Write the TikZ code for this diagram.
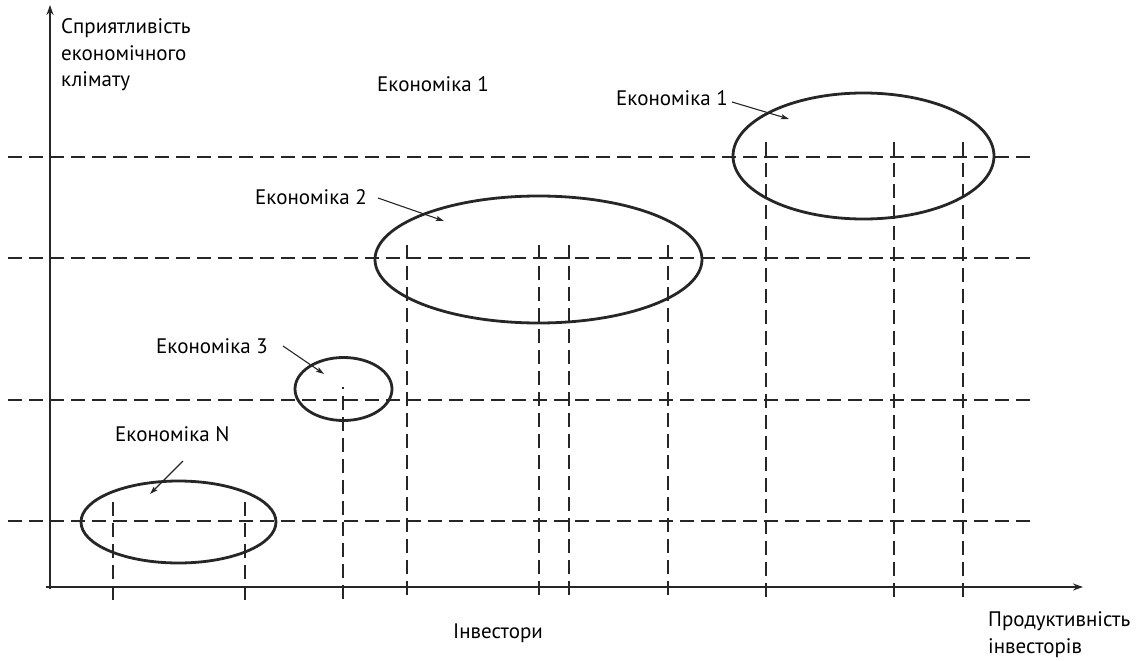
\documentclass[tikz,border=0pt]{standalone}
\usepackage{fontspec}
\setmainfont{PT Sans}
\usetikzlibrary{shapes.geometric,arrows.meta}
\begin{document}
\begin{tikzpicture}[x=1pt,y=-1pt,
  grid/.style={line width=1.5pt,dash pattern=on 14pt off 7pt,black!85},
  axis/.style={line width=1.8pt,black!85,-{Stealth[length=10pt,width=7pt]}},
  econ/.style={ellipse,draw=black!85,line width=2.8pt,inner sep=0pt},
  pointer/.style={line width=1.1pt,black!85,-{Stealth[length=8pt,width=5pt,inset=1.5pt]}},
  lbl/.style={anchor=base west,inner sep=0pt,font=\fontsize{21}{27}\selectfont,text=black}]
\useasboundingbox (0,0) rectangle (1138,661);

% horizontal levels of the climate
\draw[grid] (8,157) -- (1030,157);
\draw[grid] (8,258) -- (1030,258);
\draw[grid] (8,400) -- (1030,400);
\draw[grid] (8,521) -- (1030,521);

% vertical investor levels
\foreach \x/\t in {113/502,245/502,407/245,539/245,569/245,668/245,766/142,894/142,963/142}
  \draw[grid] (\x,\t) -- (\x,602);
\draw[grid,dash phase=12pt] (343,387) -- (343,602);

% axes
\coordinate (o) at (50,587);
\coordinate (ytop) at (50,5);
\coordinate (xend) at (1083,587);
\draw[axis] (46,587) -- (xend);
\draw[axis] (50,589) -- (ytop);

% economies
\node[econ,minimum width=261pt,minimum height=126pt] (e1) at (863.5,156) {};
\node[econ,minimum width=327pt,minimum height=127pt] (e2) at (538.5,259.5) {};
\node[econ,minimum width=97pt,minimum height=63pt] (e3) at (343.5,389) {};
\node[econ,minimum width=195pt,minimum height=82pt] (eN) at (178.5,522) {};

% labels (multi-line nodes are placed by the baseline of their last line)
\node[lbl,align=left] (ylab) at (61,87) {Сприятливість\\економічного\\клімату};
\node[lbl] (e1top) at (377,92) {Економіка 1};
\node[lbl] (e1lab) at (616,106) {Економіка 1};
\node[lbl] (e2lab) at (255,204) {Економіка 2};
\node[lbl] (e3lab) at (156,353) {Економіка 3};
\node[lbl] (eNlab) at (115,441) {Економіка N};
\node[lbl] (inv) at (453,638) {Інвестори};
\node[lbl,align=left] (xlab) at (988,653) {Продуктивність\\інвесторів};

% pointers
\coordinate (p1s) at (732,102); \coordinate (p1e) at (789,119);
\coordinate (p2s) at (378,198); \coordinate (p2e) at (444,221);
\coordinate (p3s) at (283,346); \coordinate (p3e) at (324,374);
\coordinate (pNs) at (183,461); \coordinate (pNe) at (150,494);
\draw[pointer] (p1s) -- (p1e);
\draw[pointer] (p2s) -- (p2e);
\draw[pointer] (p3s) -- (p3e);
\draw[pointer] (pNs) -- (pNe);
\end{tikzpicture}
\end{document}
